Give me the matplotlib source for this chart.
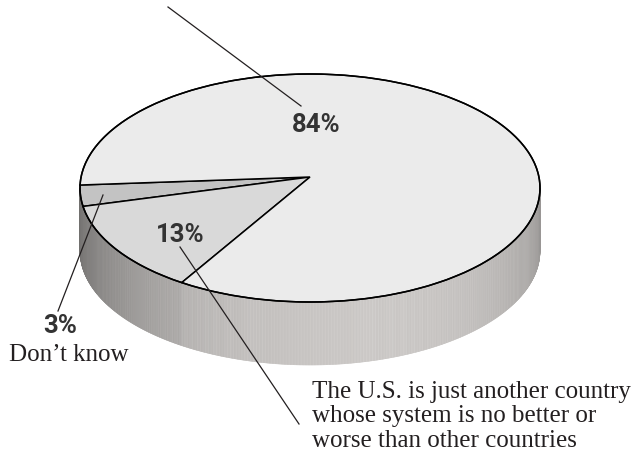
import numpy as np
import matplotlib.pyplot as plt
from matplotlib.patches import Polygon, Ellipse
from matplotlib.collections import PolyCollection

# survey shares (percent), in drawing order starting at the left edge
shares = [3, 13, 84]
pct_labels = ["3%", "13%", "84%"]
top_colors = ["#c3c3c3", "#d9d9d9", "#ebebeb"]
desc_dont_know = "Don\u2019t know"
desc_another = ["The U.S. is just another country",
                "whose system is no better or",
                "worse than other countries"]

# pie geometry in pixels
cx, cy, rx, ry, depth = 310, 189, 230, 114, 63
apex = (cx, cy - 11)
start_angle = 178.5

ink = "#231f20"
label_grey = "#333333"


def rim(theta, drop=0.0):
    t = np.radians(theta)
    return cx + rx * np.cos(t), cy - ry * np.sin(t) + drop


edges = start_angle + np.concatenate([[0], np.cumsum(shares)]) * 360 / 100

fig = plt.figure(figsize=(6.34, 4.60), dpi=100)
ax = fig.add_axes([0, 0, 1, 1])
ax.set_xlim(0, 634)
ax.set_ylim(460, 0)
ax.axis("off")

# side wall, shaded strip by strip
thetas = np.linspace(180, 360, 721)
polys, cols = [], []
for i in range(len(thetas) - 1):
    t0, t1 = thetas[i], thetas[i + 1]
    x0, y0 = rim(t0)
    x1, y1 = rim(t1)
    polys.append([(x0, y0), (x1, y1), (x1, y1 + depth), (x0, y0 + depth)])
    tm = 0.5 * (t0 + t1)
    g = 0.53 + 0.26 * np.cos(np.radians(tm - 285))
    if tm < edges[2]:
        g -= 0.03
    g += 0.025 * (1 if i % 3 == 0 else 0)
    g = min(max(g, 0), 1)
    cols.append((g, g * 0.985, g * 0.975))
ax.add_collection(PolyCollection(polys, facecolors=cols, edgecolors=cols,
                                 linewidths=0.4, zorder=1))

# top face wedges
for i, share in enumerate(shares):
    arc = np.linspace(edges[i], edges[i + 1], 200)
    xs, ys = rim(arc)
    pts = [apex] + list(zip(xs, ys))
    ax.add_patch(Polygon(pts, closed=True, facecolor=top_colors[i],
                         edgecolor="black", linewidth=1.1, zorder=2))

ax.add_patch(Ellipse((cx, cy), 2 * rx, 2 * ry, fill=False,
                     edgecolor="black", linewidth=1.1, zorder=3))

# leader lines
ax.plot([168, 301], [8, 107], color=ink, lw=0.9, zorder=4)
ax.plot([103, 58], [196, 312], color=ink, lw=0.9, zorder=4)
ax.plot([180, 299], [248, 425], color=ink, lw=0.9, zorder=4)

# percentage labels
pct_kw = dict(family="Roboto", weight="bold", fontsize=18.5,
              color=label_grey, ha="center", va="baseline", zorder=5)
ax.text(316, 132, pct_labels[2], **pct_kw)
ax.text(180, 242, pct_labels[1], **pct_kw)
ax.text(60, 333, pct_labels[0], **pct_kw)

serif_kw = dict(family="Liberation Serif", fontsize=18, color=ink,
                ha="left", va="baseline", zorder=5)
ax.text(9, 361, desc_dont_know, **serif_kw)
for k, line in enumerate(desc_another):
    ax.text(312, 398 + 24.5 * k, line, **serif_kw)

fig.savefig("out.png", dpi=100)
